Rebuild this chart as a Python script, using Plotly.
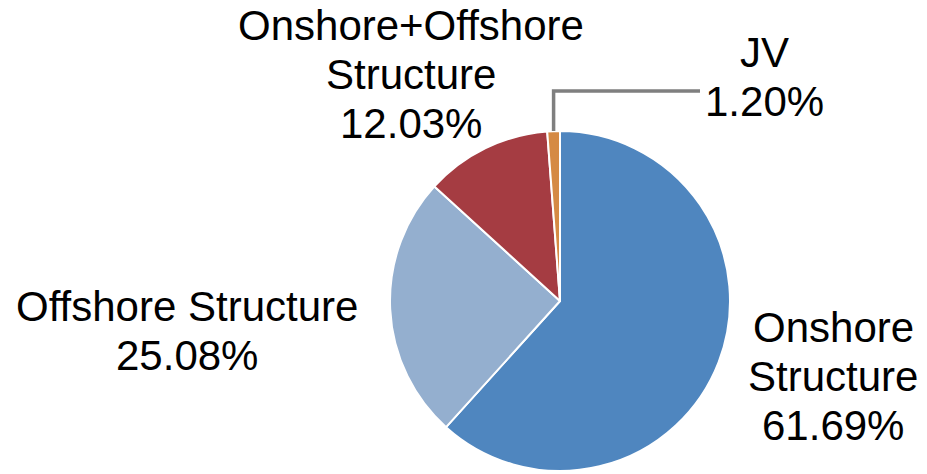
import math
import plotly.graph_objects as go

# Revenue split by business segment
segments = ["Onshore Structure", "Offshore Structure", "Onshore+Offshore Structure", "JV"]
shares = [61.69, 25.08, 12.03, 1.20]
colors = ["#4F86BF", "#94AFCF", "#A53C42", "#D58A44"]

# Label text lines (segment name split for wrapping)
label_lines = [
    ["Onshore", "Structure"],
    ["Offshore Structure"],
    ["Onshore+Offshore", "Structure"],
    ["JV"],
]
# Label block centres (pixels from top-left of the canvas)
label_pos = [(833, 376.5), (187, 331), (411, 74.5), (764, 77)]
LINE_GAP = 49
FONT = dict(family="Liberation Sans, Arial, sans-serif", size=42, color="black")

W, H = 927, 474
# Pie placement in pixels
cx, cy, r = 560, 301, 170

fig = go.Figure(
    go.Pie(
        labels=segments,
        values=shares,
        sort=False,
        direction="clockwise",
        rotation=0,
        marker=dict(colors=colors, line=dict(color="white", width=2)),
        textinfo="none",
        hoverinfo="label+percent",
        showlegend=False,
        domain=dict(x=[(cx - r) / W, (cx + r) / W], y=[(H - cy - r) / H, (H - cy + r) / H]),
    )
)

total = sum(shares)
annotations = []
for name_lines, val, (px, py) in zip(label_lines, shares, label_pos):
    lines = name_lines + [f"{val / total * 100:.2f}%"]
    n = len(lines)
    for i, line in enumerate(lines):
        ly = py + (i - (n - 1) / 2) * LINE_GAP
        annotations.append(
            dict(
                x=px / W, y=1 - ly / H, xref="paper", yref="paper",
                text=line, showarrow=False, xanchor="center", yanchor="middle",
                font=FONT,
            )
        )

# Leader line for the small JV slice: from the slice's mid-angle up and across to its label
before = sum(shares[:3])
mid = (before + shares[3] / 2) / total * 2 * math.pi
sx = cx + r * math.sin(mid)
sy = cy - r * math.cos(mid)
elbow_y = 91
end_x = 700
path = f"M {sx / W} {1 - sy / H} L {sx / W} {1 - elbow_y / H} L {end_x / W} {1 - elbow_y / H}"
shapes = [
    dict(type="path", xref="paper", yref="paper", path=path,
         line=dict(color="#7F7F7F", width=3.5))
]

fig.update_layout(
    width=W, height=H, autosize=False,
    margin=dict(l=0, r=0, t=0, b=0),
    paper_bgcolor="white", plot_bgcolor="white",
    annotations=annotations, shapes=shapes,
)

fig.write_html("out.html")
